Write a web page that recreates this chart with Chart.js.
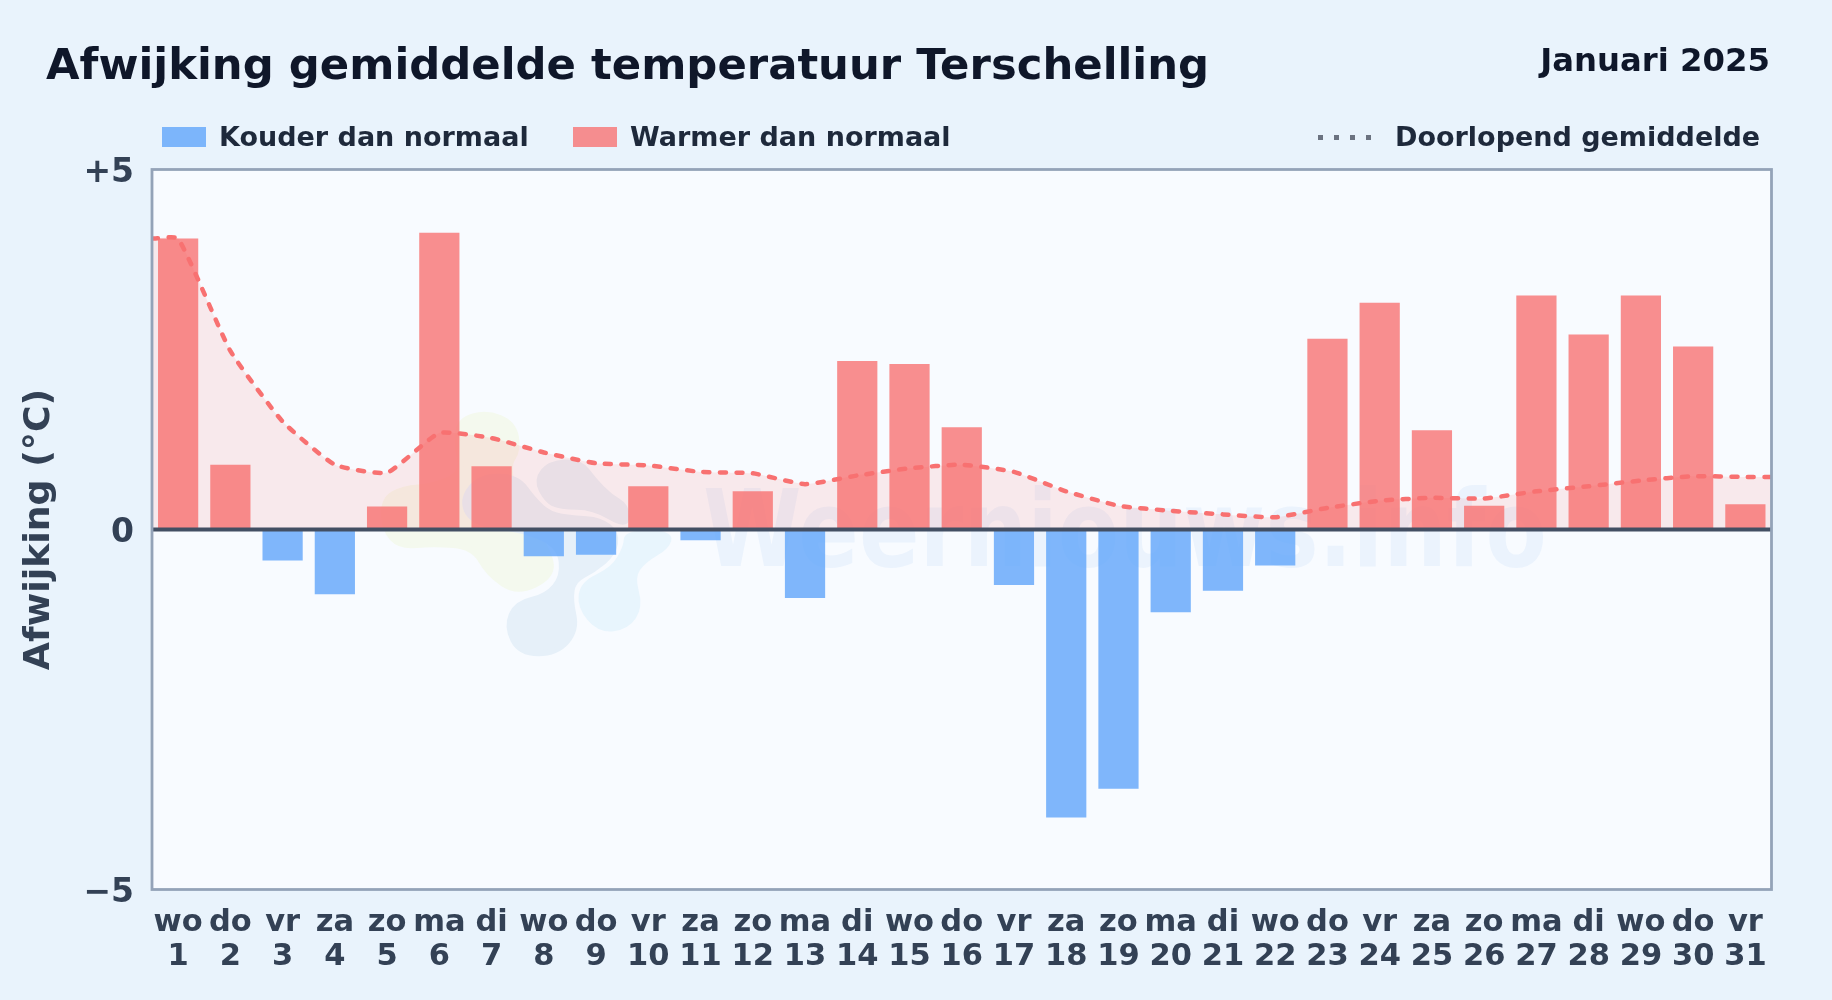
<!DOCTYPE html>
<html lang="nl">
<head>
<meta charset="utf-8">
<title>Afwijking gemiddelde temperatuur Terschelling</title>
<script src="https://cdn.jsdelivr.net/npm/chart.js@4"></script>
<style>
    html, body { margin: 0; padding: 0; }
    body {
        width: 1832px; height: 1000px; position: relative; overflow: hidden;
        background: #e9f3fc;
        font-family: "DejaVu Sans", sans-serif; font-weight: bold;
    }
    #chart { position: absolute; left: 0; top: 0; }
    .label { position: absolute; white-space: nowrap; line-height: 1; }
    #title { left: 46px; top: 43px; font-size: 43.35px; color: #0f172a; }
    #period { right: 62px; top: 44px; font-size: 32.3px; color: #0f172a; }
    .legend { font-size: 27px; color: #1e293b; top: 123px; }
    .swatch { position: absolute; top: 127px; width: 44px; height: 20px; }
    #dots { position: absolute; left: 1316px; top: 134px; }
</style>
</head>
<body>
<canvas id="chart" width="1832" height="1000"></canvas>
<div class="label" id="title">Afwijking gemiddelde temperatuur Terschelling</div>
<div class="label" id="period">Januari 2025</div>
<div class="swatch" style="left:162px;background:rgba(96,165,250,0.8)"></div>
<div class="label legend" style="left:219px">Kouder dan normaal</div>
<div class="swatch" style="left:573px;background:rgba(248,113,113,0.79)"></div>
<div class="label legend" style="left:630px">Warmer dan normaal</div>
<svg id="dots" width="58" height="8"><g fill="#6b7280"><rect x="2" y="1" width="5" height="5"/><rect x="18" y="1" width="5" height="5"/><rect x="34" y="1" width="5" height="5"/><rect x="50" y="1" width="5" height="5"/></g></svg>
<div class="label legend" style="left:1395px">Doorlopend gemiddelde</div>
<script>
const weekdays = ['wo','do','vr','za','zo','ma','di','wo','do','vr','za','zo','ma','di','wo','do','vr','za','zo','ma','di','wo','do','vr','za','zo','ma','di','wo','do','vr'];
const days = [1,2,3,4,5,6,7,8,9,10,11,12,13,14,15,16,17,18,19,20,21,22,23,24,25,26,27,28,29,30,31];
const deviation = [4.04,0.90,-0.43,-0.90,0.32,4.12,0.88,-0.37,-0.35,0.60,-0.15,0.53,-0.95,2.34,2.30,1.42,-0.77,-4.00,-3.60,-1.15,-0.85,-0.50,2.65,3.15,1.38,0.33,3.25,2.71,3.25,2.54,0.35];
const runningMean = [4.04,2.48,1.50,0.90,0.79,1.34,1.27,1.07,0.92,0.89,0.80,0.78,0.63,0.75,0.85,0.90,0.80,0.53,0.33,0.26,0.21,0.17,0.30,0.40,0.44,0.43,0.53,0.60,0.68,0.74,0.73];
const yTicks = [-5, 0, 5];

// bars split by sign, the running mean runs on to both plot edges
const coldBars = days.map((d, i) => ({ x: d, y: deviation[i] < 0 ? deviation[i] : null }));
const warmBars = days.map((d, i) => ({ x: d, y: deviation[i] >= 0 ? deviation[i] : null }));
const meanLine = days.map((d, i) => ({ x: d, y: runningMean[i] }));
meanLine.unshift({ x: 0.5, y: runningMean[0] });
meanLine.push({ x: 31.5, y: runningMean[runningMean.length - 1] });

const logoGreen = [[300,60],[380,38],[460,70],[475,150],[440,200],[480,330],[570,460],[575,530],[470,580],[385,520],[340,440],[220,430],[120,440],[75,390],[70,300],[130,265],[220,260],[310,220],[290,130]];
const logoDark = [[305,300],[360,230],[470,230],[520,300],[570,345],[640,355],[720,360],[770,400],[760,460],[700,510],[640,540],[630,600],[650,690],[590,760],[480,760],[440,680],[470,610],[560,590],[610,530],[600,440],[500,390],[340,370]];
const logoDark2 = [[530,240],[570,190],[660,185],[700,240],[750,290],[800,320],[800,380],[700,320],[600,320],[560,300]];
const logoLight = [[800,400],[930,400],[920,440],[850,480],[815,530],[840,620],[800,680],[720,690],[660,620],[670,550],[760,510],[800,440]];

function blob(ctx, color, points) {
    const pts = points.map(p => [360 + p[0] / 3, 400 + p[1] / 3]);
    const n = pts.length;
    ctx.fillStyle = color;
    ctx.strokeStyle = color;
    ctx.lineWidth = 6;
    ctx.lineJoin = 'round';
    ctx.beginPath();
    ctx.moveTo((pts[n - 1][0] + pts[0][0]) / 2, (pts[n - 1][1] + pts[0][1]) / 2);
    for (let i = 0; i < n; i++) {
        const p = pts[i], q = pts[(i + 1) % n];
        ctx.quadraticCurveTo(p[0], p[1], (p[0] + q[0]) / 2, (p[1] + q[1]) / 2);
    }
    ctx.closePath();
    ctx.fill();
    ctx.stroke();
}

const backdrop = {
    id: 'backdrop',
    beforeDatasetsDraw(chart) {
        const { ctx, chartArea: a } = chart;
        ctx.save();
        ctx.fillStyle = '#f8fbff';
        ctx.fillRect(a.left, a.top, a.right - a.left, a.bottom - a.top);
        blob(ctx, '#f4f9ee', logoGreen);
        blob(ctx, '#e6f0f9', logoDark);
        blob(ctx, '#e6f0f9', logoDark2);
        blob(ctx, '#e8f5fd', logoLight);
        ctx.font = 'bold 107px "DejaVu Sans"';
        ctx.fillStyle = 'rgba(147,190,235,0.12)';
        ctx.textBaseline = 'alphabetic';
        ctx.fillText('Weerniouws.info', 703, 566, 844);
        ctx.restore();
    },
    afterDraw(chart) {
        const { ctx, chartArea: a, scales: { y } } = chart;
        ctx.save();
        // zero line and plot frame on top of the bars
        ctx.strokeStyle = '#434f63';
        ctx.lineWidth = 4;
        ctx.beginPath();
        ctx.moveTo(a.left, y.getPixelForValue(0));
        ctx.lineTo(a.right, y.getPixelForValue(0));
        ctx.stroke();
        ctx.strokeStyle = '#94a3b8';
        ctx.lineWidth = 2.8;
        ctx.strokeRect(a.left, a.top, a.right - a.left, a.bottom - a.top);
        ctx.restore();
    }
};

new Chart(document.getElementById('chart'), {
    data: {
        datasets: [
            { type: 'bar', label: 'Kouder dan normaal', data: coldBars, backgroundColor: 'rgba(96,165,250,0.8)', order: 2 },
            { type: 'bar', label: 'Warmer dan normaal', data: warmBars, backgroundColor: 'rgba(248,113,113,0.79)', order: 2 },
            {
                type: 'line', label: 'Doorlopend gemiddelde', data: meanLine,
                borderColor: '#f87171', borderWidth: 4.5, borderDash: [6, 10.5], borderCapStyle: 'round',
                backgroundColor: 'rgba(255,110,100,0.12)', fill: 'origin',
                pointRadius: 0, tension: 0.15, order: 1
            }
        ]
    },
    options: {
        responsive: false,
        animation: false,
        grouped: false,
        barPercentage: 0.77,
        categoryPercentage: 1,
        layout: { padding: { left: 0, right: 60.5, top: 169.5, bottom: 0 } },
        plugins: { legend: { display: false }, tooltip: { enabled: false } },
        scales: {
            x: {
                type: 'linear', min: 0.5, max: 31.5, offset: false,
                grid: { display: false }, border: { display: false },
                afterBuildTicks(axis) { axis.ticks = days.map(d => ({ value: d })); },
                afterFit(axis) { axis.height = 110.5; },
                ticks: {
                    autoSkip: false, maxRotation: 0, padding: 8, color: '#334155',
                    font: { family: '"DejaVu Sans"', size: 30.5, weight: 'bold', lineHeight: 1.13 },
                    callback: v => [weekdays[v - 1], String(v)]
                }
            },
            y: {
                min: -5, max: 5,
                grid: { display: false }, border: { display: false },
                afterBuildTicks(axis) { axis.ticks = yTicks.map(v => ({ value: v })); },
                afterFit(axis) { axis.width = 152; },
                ticks: {
                    padding: 10, labelOffset: 4, color: '#334155',
                    font: { family: '"DejaVu Sans"', size: 33, weight: 'bold' },
                    callback: v => v > 0 ? '+' + v : v < 0 ? '\u2212' + Math.abs(v) : '0'
                },
                title: {
                    display: true, text: 'Afwijking (\u00b0C)', color: '#334155', padding: { top: 18, bottom: 0 },
                    font: { family: '"DejaVu Sans"', size: 36.3, weight: 'bold' }
                }
            }
        }
    },
    plugins: [backdrop]
});
</script>
</body>
</html>
